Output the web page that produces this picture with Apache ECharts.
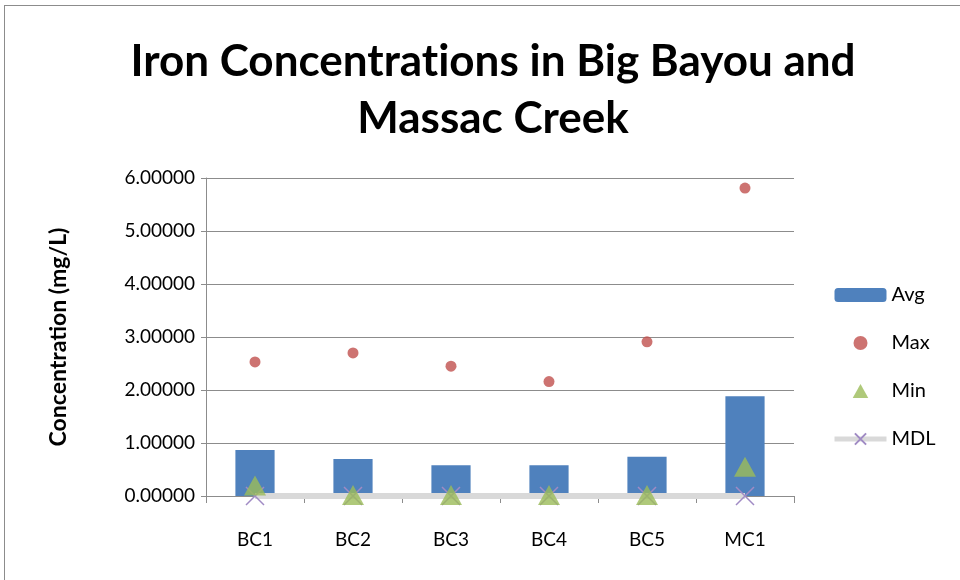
<!DOCTYPE html>
<html>
<head>
<meta charset="utf-8">
<script src="https://cdn.jsdelivr.net/npm/echarts@6/dist/echarts.min.js"></script>
<style>
  html, body { margin: 0; padding: 0; background: #fff; }
  #frame { position: absolute; left: 4px; top: 5px; width: 960px; height: 580px; border: 1px solid #8c8c8c; box-sizing: border-box; }
  #chart { position: absolute; left: 0; top: 0; width: 960px; height: 580px; }
</style>
</head>
<body>
<div id="frame"></div>
<div id="chart"></div>
<script>
// sites along the creeks
var sites = ['BC1', 'BC2', 'BC3', 'BC4', 'BC5', 'MC1'];
var avgVals = [0.87, 0.70, 0.58, 0.58, 0.74, 1.88];
var maxVals = [2.53, 2.70, 2.45, 2.16, 2.91, 5.81];
var minVals = [0.20, 0.02, 0.02, 0.02, 0.02, 0.55];
var mdlVals = [0.00, 0.00, 0.00, 0.00, 0.00, 0.00];
var yTicks = [0, 1, 2, 3, 4, 5, 6];

var font = 'Lato';
var crossPath = 'path://M0,0L10,10M10,0L0,10';
var triPath = 'path://M5,0L10,9L0,9Z';
var titleFont = { fontFamily: font, fontSize: 44, fontWeight: 'bold', color: '#000', lineHeight: 57 };

var myChart = echarts.init(document.getElementById('chart'));
myChart.setOption({
  animation: false,
  textStyle: { fontFamily: font },
  title: {
    // split "Concentrat|ions" in two rich pieces so Lato draws no "ti" ligature
    text: '{t|Iron Concentrat}{t|ions in Big Bayou and}\n{t|Massac Creek}',
    left: 488, top: 28, textAlign: 'center',
    textStyle: {
      fontFamily: font, fontSize: 44, fontWeight: 'bold', color: '#000', lineHeight: 57,
      rich: { t: titleFont }
    }
  },
  legend: {
    orient: 'vertical', left: 827, top: 280,
    itemWidth: 52, itemHeight: 14, itemGap: 28,
    textStyle: { fontFamily: font, fontSize: 20, color: '#000' },
    data: [
      { name: 'Avg' },
      { name: 'Max', icon: 'circle' },
      { name: 'Min', icon: triPath },
      { name: 'MDL', lineStyle: { width: 5, color: '#d9d9d9' } }
    ]
  },
  grid: { left: 206, right: 166, top: 178, bottom: 84 },
  xAxis: {
    type: 'category', data: sites,
    axisLine: { show: false },
    axisTick: { show: true, length: 7, lineStyle: { color: '#8c8c8c' } },
    axisLabel: { fontFamily: font, fontSize: 19, color: '#000', margin: 34 }
  },
  yAxis: {
    type: 'value', min: yTicks[0], max: yTicks[yTicks.length - 1], interval: 1,
    name: 'Concentration (mg/L)', nameLocation: 'middle', nameGap: 136,
    nameTextStyle: { fontFamily: font, fontSize: 23, fontWeight: 'bold', color: '#000' },
    axisLine: { show: true, lineStyle: { color: '#8c8c8c' } },
    axisTick: { show: true, length: 5, lineStyle: { color: '#8c8c8c' } },
    axisLabel: {
      fontFamily: font, fontSize: 19, color: '#000', margin: 11,
      formatter: function (v) { return v.toFixed(5); }
    },
    splitLine: { lineStyle: { color: '#8c8c8c' } }
  },
  series: [
    {
      name: 'Avg', type: 'bar', data: avgVals, barWidth: '40%',
      itemStyle: { color: '#4f81bd' }, z: 1
    },
    {
      name: 'MDL', type: 'line', data: mdlVals,
      lineStyle: { color: '#d9d9d9', width: 6 },
      symbol: crossPath, symbolSize: 18, showAllSymbol: true,
      itemStyle: { color: 'none', borderColor: '#a08bc4', borderWidth: 1.5 },
      z: 2
    },
    {
      name: 'Max', type: 'scatter', data: maxVals,
      symbol: 'circle', symbolSize: 11,
      itemStyle: { color: '#c0504d' }, z: 3
    },
    {
      name: 'Min', type: 'scatter', data: minVals,
      symbol: 'triangle', symbolSize: [22, 20],
      itemStyle: { color: '#9bbb59' }, z: 4
    }
  ]
});
</script>
</body>
</html>
